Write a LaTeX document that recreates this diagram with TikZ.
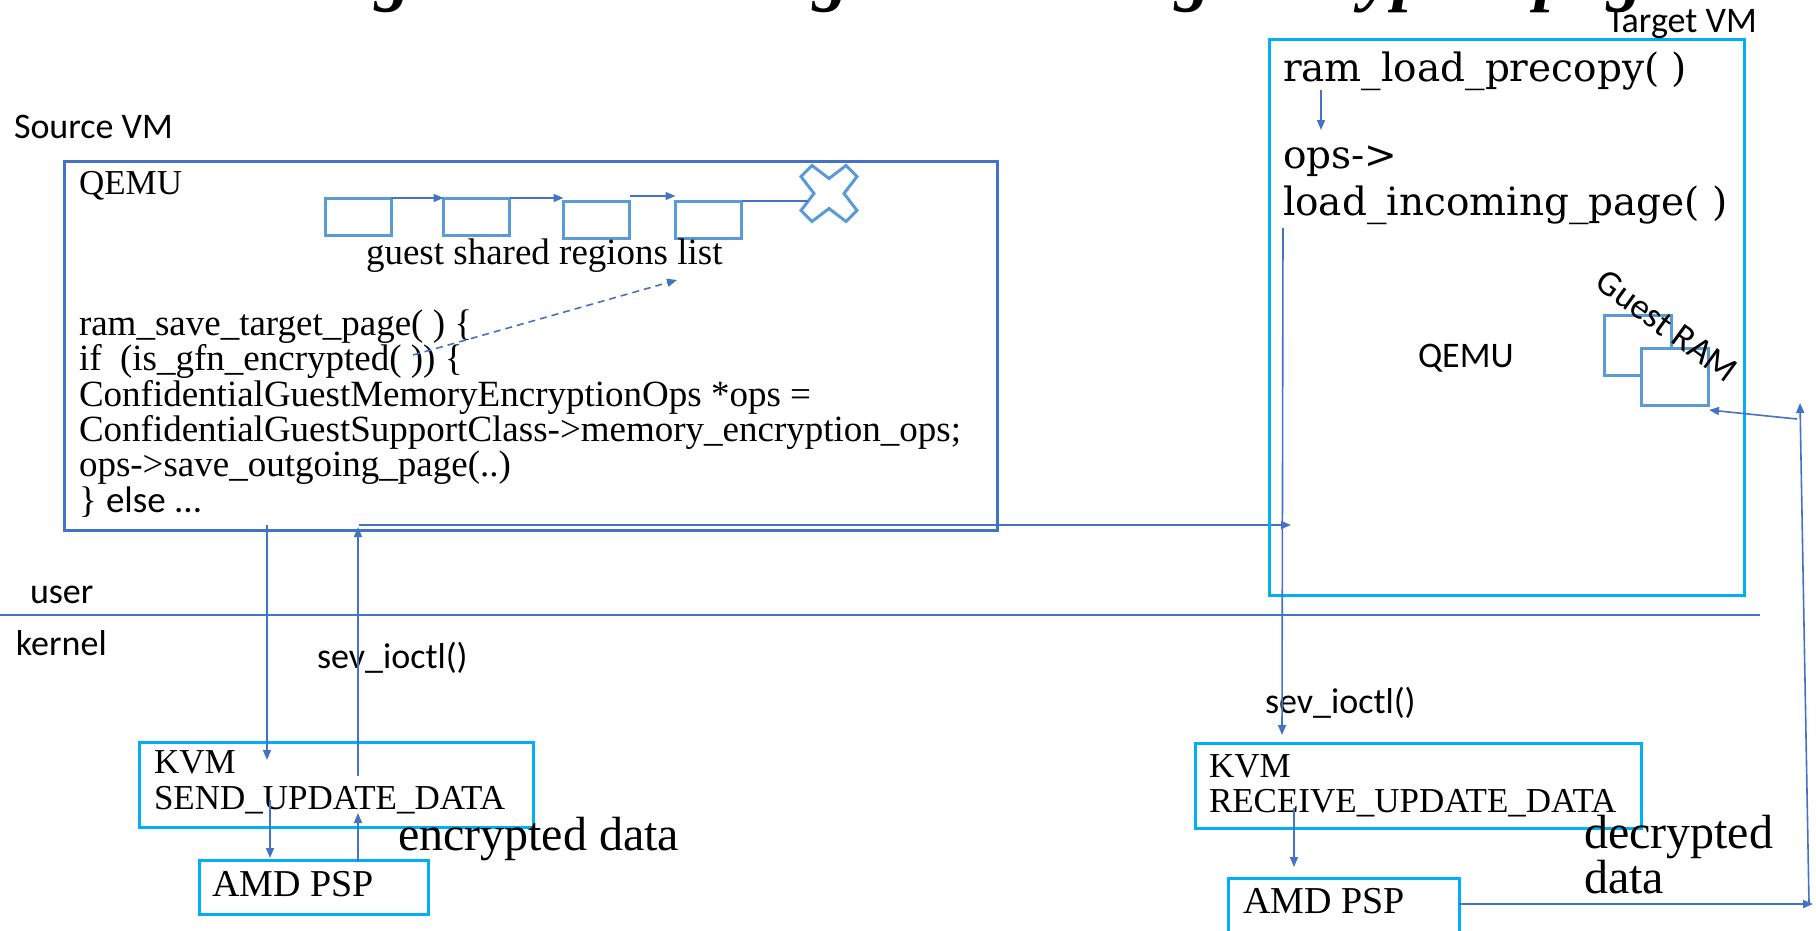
\documentclass[tikz,border=0pt]{standalone}
\usepackage{fontspec}
\setmainfont{Liberation Serif}
\newfontfamily\sansfam{Carlito}
\newfontfamily\widefam{DejaVu Serif}
\usetikzlibrary{arrows.meta,calc}
\definecolor{frameblue}{HTML}{4472C4}
\definecolor{vmcyan}{HTML}{00B0F0}
\definecolor{listblue}{HTML}{5B9BD5}
\begin{document}
\begin{tikzpicture}[x=1pt,y=-1pt,
  every node/.style={inner sep=0pt, outer sep=0pt},
  lbl/.style={anchor=base west, font=\sansfam\fontsize{36}{40}\selectfont},
  code/.style={anchor=base west, font=\fontsize{37}{40}\selectfont},
  kvmtxt/.style={anchor=base west, font=\fontsize{35}{40}\selectfont},
  psptxt/.style={anchor=base west, font=\fontsize{38}{40}\selectfont},
  bigtxt/.style={anchor=base west, font=\fontsize{48}{50}\selectfont},
  widetxt/.style={anchor=base west, font=\widefam\fontsize{39}{44}\selectfont},
  srcframe/.style={draw=frameblue, line width=3pt},
  vmbox/.style={draw=vmcyan, line width=3pt},
  listbox/.style={draw=listblue, line width=3pt, fill=white, minimum width=66pt, minimum height=37pt},
  conn/.style={draw=frameblue, line width=1.6pt},
  arr/.style={conn, -{Triangle[length=10pt,width=8pt]}}
]
\path[use as bounding box] (0,0) rectangle (1816,930);

% slide heading, running off the top edge
\begin{scope}
  \clip (0,0) rectangle (1816,930);
  \node[anchor=base west, font=\fontsize{72}{80}\selectfont\bfseries\itshape] (heading) at (127,-3)
    {Handling SEV Live Migration using encrypted page};
\end{scope}

% ---------------- source side ----------------
\node[lbl] (srcvm) at (14,138) {Source VM};
\node[srcframe, minimum width=933pt, minimum height=369pt] (src) at (530.5,345.5) {};
\node[anchor=base west, font=\fontsize{35}{40}\selectfont] (qemuS) at (79,194) {QEMU};

% shared regions list
\node[listbox] (b1) at (358,216.5) {};
\node[listbox] (b2) at (476.5,216.5) {};
\node[listbox] (b3) at (596.5,219.5) {};
\node[listbox] (b4) at (708.5,219.5) {};
\draw[arr] (b1.north east) -- (b2.north west);
\draw[arr] (b2.north east) -- (b2.north east -| b3.west);
\draw[arr] ([yshift=5pt]b3.north east) -- ([yshift=5pt]b3.north east -| b4.west);
\draw[listblue, line width=3pt, line join=miter, shift={(829,193.5)}]
  (-28,-17) -- (-17,-28) -- (0,-15) -- (17,-28) -- (28,-17) -- (15,0) --
  (28,17) -- (17,28) -- (0,15) -- (-17,28) -- (-28,17) -- (-15,0) -- cycle;
\coordinate (xend) at (808,201);
\draw[conn] (b4.north east) -- (xend);
\node[code] (glist) at (366,264) {guest shared regions list};

% code in QEMU
\node[code] (c1) at (79,335) {ram\_save\_target\_page( ) \{};
\node[code] (c2) at (79,370.5) {if~~(is\_gfn\_encrypted( )) \{};
\node[code] (c3) at (79,406) {ConfidentialGuestMemoryEncryptionOps *ops =};
\node[code] (c4) at (79,441) {ConfidentialGuestSupportClass->memory\_encryption\_ops;};
\node[code] (c5) at (79,476) {ops->save\_outgoing\_page(..)};
\node[code] (c6) at (79,512) {\} {\sansfam else ...}};

\coordinate (gfn) at (413,355);
\coordinate (listref) at (677,280);
\draw[arr, dashed, dash pattern=on 7pt off 5pt] (gfn) -- (listref);

% user / kernel boundary
\coordinate (splitL) at (0,615);
\coordinate (splitR) at (1760,615);
\draw[draw=frameblue, line width=2.5pt] (splitL) -- (splitR);
\node[lbl] (user) at (30,603) {user};
\node[lbl] (kernel) at (16,655) {kernel};

% kernel side, source
\node[vmbox, minimum width=394pt, minimum height=85pt] (kvmS) at (336,784.5) {};
\node[kvmtxt] (kvmS1) at (154,773) {KVM};
\node[kvmtxt] (kvmS2) at (154,809) {SEND\_UPDATE\_DATA};
\node[vmbox, minimum width=229pt, minimum height=54pt] (pspS) at (313.5,887) {};
\node[psptxt] (pspS1) at (212,896) {AMD PSP};
\node[bigtxt] (enc) at (398,850) {encrypted data};
\node[lbl] (ioctlS) at (317,668) {sev\_ioctl()};

\coordinate (dnTop) at (267,525);
\coordinate (dnTip) at (267,760);
\draw[arr] (dnTop) -- (dnTip);
\coordinate (upBot) at (358,776);
\coordinate (upTip) at (358,527);
\draw[arr] (upBot) -- (upTip);
\coordinate (xferL) at (359,525);
\coordinate (xferR) at (1291,525);
\draw[arr] (xferL) -- (xferR);

\coordinate (s2pTop) at (270,800);
\coordinate (s2pTip) at (270,858);
\draw[arr] (s2pTop) -- (s2pTip);
\coordinate (p2sBot) at (358,862);
\coordinate (p2sTip) at (358,813);
\draw[arr] (p2sBot) -- (p2sTip);

% ---------------- target side ----------------
\node[vmbox, minimum width=475pt, minimum height=556pt] (tgt) at (1506.5,317) {};
\node[lbl] (tgtvm) at (1607,32) {Target VM};
\node[widetxt] (precopy) at (1283,81) {ram\_load\_precopy( )};
\node[widetxt] (ops1) at (1283,168) {ops->};
\node[widetxt] (ops2) at (1283,215) {load\_incoming\_page( )};
\coordinate (pcA) at (1321,90);
\coordinate (pcB) at (1321,130);
\draw[arr] (pcA) -- (pcB);
\node[lbl] (qemuT) at (1418,367) {QEMU};

\node[listbox, minimum width=67pt, minimum height=60pt] (ramA) at (1637.5,345) {};
\node[listbox, minimum width=67pt, minimum height=57pt] (ramB) at (1674.5,376.5) {};
\node[font=\sansfam\fontsize{36}{40}\selectfont, rotate=-36] (gram) at (1667,326) {Guest RAM};

\node[vmbox, minimum width=446pt, minimum height=85pt] (kvmT) at (1418,785.5) {};
\node[kvmtxt] (kvmT1) at (1209,777) {KVM};
\node[kvmtxt] (kvmT2) at (1209,812) {RECEIVE\_UPDATE\_DATA};
\node[vmbox, minimum width=231pt, minimum height=56pt] (pspT) at (1343.5,906) {};
\node[psptxt] (pspT1) at (1243,913) {AMD PSP};
\node[lbl] (ioctlT) at (1265,713) {sev\_ioctl()};
\node[bigtxt] (dec1) at (1584,848) {decrypted};
\node[bigtxt] (dec2) at (1584,893) {data};

\coordinate (inTop) at (1283,228);
\coordinate (inTip) at (1282,735);
\draw[arr] (inTop) -- (inTip);
\coordinate (r2pTop) at (1294,808);
\coordinate (r2pTip) at (1294,867);
\draw[arr] (r2pTop) -- (r2pTip);
\coordinate (outTip) at (1813,904);
\draw[arr] (pspT.east |- outTip) -- (outTip);
\coordinate (riseBot) at (1809,903);
\coordinate (riseTip) at (1800,403);
\draw[arr] (riseBot) -- (riseTip);
\coordinate (ramIn) at (1797,419);
\coordinate (ramTip) at (1709,410);
\draw[arr] (ramIn) -- (ramTip);
\end{tikzpicture}
\end{document}
